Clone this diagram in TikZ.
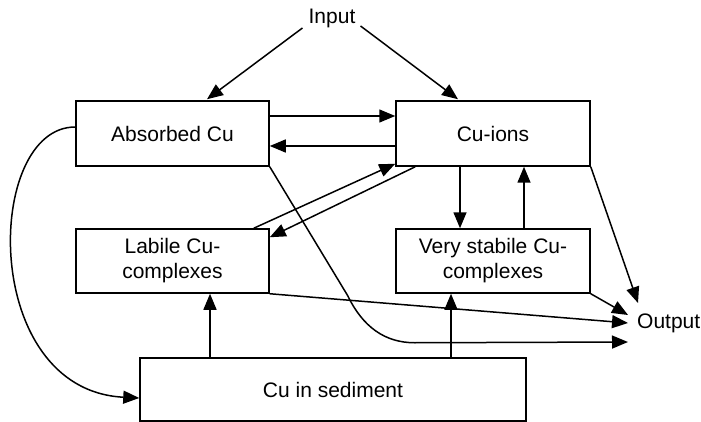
\documentclass[tikz,border=0pt]{standalone}
\usepackage{fontspec}
\setmainfont{Liberation Sans}
\usetikzlibrary{arrows.meta,calc}
\begin{document}
\begin{tikzpicture}[x=1pt,y=-1pt,
  every node/.style={font=\fontsize{21}{25}\selectfont},
  box/.style={draw,line width=1.5pt,inner sep=0pt,align=center},
  lbl/.style={inner sep=0pt},
  flow/.style={line width=1.5pt,-{Triangle[length=16pt,width=13pt]}},
  plain/.style={line width=1.5pt}]
\useasboundingbox (0,0) rectangle (701,422);

% compartments
\node[box,minimum width=193pt,minimum height=65pt] (abs)  at (172.5,133.5) {Absorbed Cu};
\node[box,minimum width=194pt,minimum height=65pt] (ions) at (493,133.5)   {Cu-ions};
\node[box,minimum width=193pt,minimum height=64pt] (lab)  at (172.5,261)   {Labile Cu-\\complexes};
\node[box,minimum width=194pt,minimum height=64pt] (stab) at (493,261)     {Very stabile Cu-\\complexes};
\node[box,minimum width=386pt,minimum height=63pt] (sed)  at (333,389.5)   {Cu in sediment};

% sources and sinks
\node[lbl,anchor=base] (in) at (332,24) {Input};
\node[lbl,anchor=base west] (out) at (637,328) {Output};

% input
\draw[flow] ($(in.base west)+(-6,4)$) -- ($(abs.north)+(34.5,-1)$);
\draw[flow] ($(in.base east)+(5,2)$) -- ($(ions.north)+(-35,-1)$);

% exchange between absorbed Cu and ions
\draw[flow] ($(abs.east)+(0,-17.5)$) -- ($(ions.west)+(0,-17.5)$);
\draw[flow] ($(ions.west)+(0,12.5)$) -- ($(abs.east)+(0,12.5)$);

% exchange between ions and labile complexes
\draw[flow] ($(lab.north east)+(-16,0)$) -- ($(ions.south west)+(0,-3)$);
\draw[flow] ($(ions.south west)+(20,0)$) -- ($(lab.north east)+(0,9)$);

% exchange between ions and very stabile complexes
\draw[flow] ($(ions.south)+(-33,0)$) -- ($(stab.north)+(-33,0)$);
\draw[flow] ($(stab.north)+(31,0)$) -- ($(ions.south)+(31,0)$);

% release from sediment
\draw[flow] ($(sed.north)+(-123,0)$) -- ($(lab.south)+(37.5,0)$);
\draw[flow] ($(sed.north)+(118,0)$) -- ($(stab.south)+(-42,0)$);

% burial of absorbed Cu
\draw[flow] ($(abs.west)+(0,-6.5)$)
  .. controls ($(abs.west)+(-91,-6.5)$) and ($(sed.west)+(-160,0.5)$)
  .. ($(sed.west)+(0,8.5)$);

% outputs
\draw[flow] (ions.south east) -- ($(out.base west)+(1,-25)$);
\draw[flow] (stab.south east) -- ($(out.base west)+(-9,-13)$);
\draw[flow] (lab.south east) -- ($(out.base west)+(-9,-5)$);
\draw[flow] (abs.south east) -- ($(abs.south east)+(78,129)$)
  .. controls ($(abs.south east)+(93,160)$) and ($(abs.south east)+(115,176)$)
  .. ($(abs.south east)+(145,176)$) -- ($(out.base west)+(-9,14)$);
\end{tikzpicture}
\end{document}
